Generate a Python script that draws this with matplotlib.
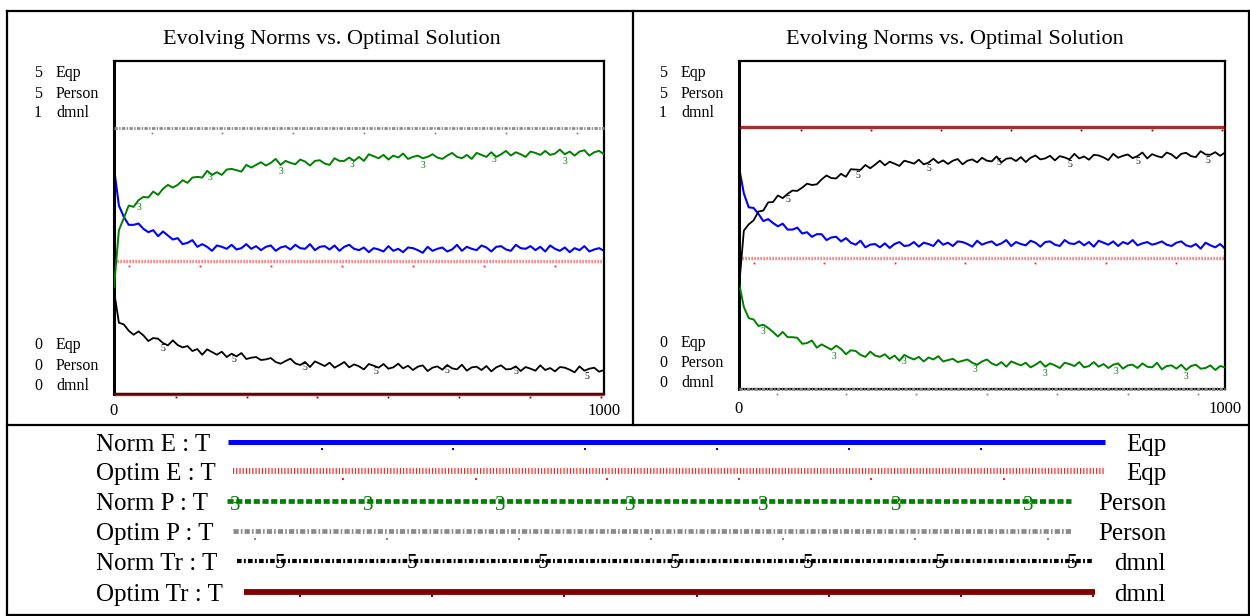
import numpy as np
import matplotlib
matplotlib.use("Agg")
import matplotlib.pyplot as plt
from matplotlib.lines import Line2D
from matplotlib.transforms import offset_copy

plt.rcParams['font.family'] = ['Liberation Serif', 'DejaVu Serif']

# ---------------------------------------------------------------- data
time = np.arange(0, 1001, 10)

norm_e_left = [
    3.39, 2.83, 2.66, 2.54, 2.54, 2.56, 2.48, 2.43, 2.46, 2.37,
    2.44, 2.38, 2.32, 2.34, 2.25, 2.27, 2.31, 2.21, 2.25, 2.21,
    2.15, 2.23, 2.21, 2.18, 2.24, 2.17, 2.19, 2.25, 2.18, 2.22,
    2.16, 2.21, 2.23, 2.15, 2.20, 2.22, 2.17, 2.24, 2.19, 2.18,
    2.25, 2.16, 2.21, 2.22, 2.17, 2.23, 2.15, 2.21, 2.24, 2.18,
    2.16, 2.20, 2.13, 2.19, 2.17, 2.14, 2.22, 2.15, 2.18, 2.13,
    2.20, 2.19, 2.16, 2.12, 2.21, 2.15, 2.18, 2.20, 2.14, 2.17,
    2.24, 2.15, 2.21, 2.18, 2.16, 2.23, 2.20, 2.14, 2.21, 2.22,
    2.17, 2.15, 2.24, 2.19, 2.18, 2.22, 2.16, 2.21, 2.14, 2.23,
    2.18, 2.15, 2.20, 2.13, 2.19, 2.16, 2.22, 2.14, 2.17, 2.19,
    2.15]

norm_p_left = [
    1.60, 2.46, 2.64, 2.83, 2.81, 2.91, 2.96, 2.95, 3.04, 2.99,
    3.08, 3.14, 3.10, 3.14, 3.21, 3.17, 3.25, 3.26, 3.25, 3.35,
    3.29, 3.33, 3.29, 3.37, 3.38, 3.36, 3.34, 3.44, 3.40, 3.44,
    3.48, 3.43, 3.47, 3.53, 3.44, 3.50, 3.47, 3.45, 3.52, 3.49,
    3.43, 3.50, 3.51, 3.46, 3.44, 3.54, 3.50, 3.50, 3.55, 3.50,
    3.56, 3.50, 3.60, 3.57, 3.54, 3.59, 3.52, 3.58, 3.55, 3.61,
    3.53, 3.56, 3.58, 3.54, 3.56, 3.60, 3.55, 3.53, 3.58, 3.62,
    3.56, 3.54, 3.59, 3.53, 3.62, 3.59, 3.56, 3.63, 3.56, 3.60,
    3.65, 3.58, 3.63, 3.60, 3.56, 3.64, 3.62, 3.59, 3.65, 3.59,
    3.61, 3.67, 3.60, 3.64, 3.58, 3.64, 3.66, 3.58, 3.63, 3.65,
    3.60]

norm_tr_left = [
    0.310, 0.214, 0.209, 0.190, 0.178, 0.188, 0.176, 0.159, 0.168, 0.166,
    0.153, 0.146, 0.161, 0.147, 0.140, 0.144, 0.129, 0.135, 0.118, 0.134,
    0.126, 0.118, 0.127, 0.111, 0.121, 0.113, 0.123, 0.105, 0.109, 0.111,
    0.102, 0.104, 0.108, 0.096, 0.091, 0.099, 0.106, 0.092, 0.087, 0.096,
    0.081, 0.098, 0.091, 0.084, 0.094, 0.079, 0.087, 0.096, 0.080, 0.089,
    0.083, 0.074, 0.090, 0.085, 0.079, 0.090, 0.076, 0.080, 0.091, 0.077,
    0.085, 0.072, 0.082, 0.086, 0.069, 0.079, 0.083, 0.073, 0.087, 0.077,
    0.074, 0.088, 0.070, 0.080, 0.082, 0.072, 0.084, 0.068, 0.080, 0.086,
    0.074, 0.075, 0.083, 0.069, 0.081, 0.076, 0.070, 0.086, 0.072, 0.078,
    0.068, 0.081, 0.079, 0.073, 0.065, 0.083, 0.070, 0.076, 0.079, 0.067,
    0.072]

norm_e_right = [
    3.38, 2.98, 2.77, 2.76, 2.67, 2.56, 2.59, 2.53, 2.48, 2.52,
    2.43, 2.43, 2.46, 2.37, 2.39, 2.32, 2.36, 2.36, 2.27, 2.31,
    2.32, 2.25, 2.30, 2.23, 2.20, 2.26, 2.16, 2.20, 2.21, 2.16,
    2.22, 2.15, 2.21, 2.24, 2.18, 2.19, 2.24, 2.17, 2.23, 2.21,
    2.18, 2.27, 2.20, 2.23, 2.18, 2.25, 2.24, 2.21, 2.17, 2.26,
    2.20, 2.23, 2.25, 2.19, 2.22, 2.27, 2.18, 2.24, 2.21, 2.19,
    2.26, 2.23, 2.17, 2.24, 2.25, 2.20, 2.18, 2.27, 2.22, 2.21,
    2.25, 2.19, 2.24, 2.17, 2.26, 2.23, 2.20, 2.25, 2.18, 2.24,
    2.21, 2.27, 2.19, 2.22, 2.24, 2.20, 2.22, 2.25, 2.20, 2.18,
    2.23, 2.25, 2.19, 2.17, 2.21, 2.14, 2.23, 2.19, 2.16, 2.21,
    2.14]

norm_p_right = [
    1.62, 1.25, 1.08, 1.06, 0.96, 0.98, 0.93, 0.87, 0.80, 0.87,
    0.79, 0.79, 0.78, 0.69, 0.70, 0.74, 0.63, 0.68, 0.64, 0.60,
    0.66, 0.61, 0.53, 0.59, 0.58, 0.52, 0.49, 0.57, 0.51, 0.49,
    0.53, 0.46, 0.51, 0.43, 0.52, 0.48, 0.45, 0.49, 0.42, 0.48,
    0.45, 0.50, 0.42, 0.44, 0.46, 0.41, 0.43, 0.45, 0.40, 0.37,
    0.42, 0.45, 0.39, 0.36, 0.41, 0.34, 0.42, 0.39, 0.36, 0.40,
    0.33, 0.37, 0.42, 0.34, 0.39, 0.36, 0.32, 0.40, 0.38, 0.35,
    0.41, 0.33, 0.35, 0.41, 0.34, 0.38, 0.32, 0.37, 0.39, 0.31,
    0.36, 0.37, 0.32, 0.39, 0.34, 0.33, 0.40, 0.30, 0.35, 0.36,
    0.31, 0.37, 0.29, 0.35, 0.37, 0.31, 0.32, 0.36, 0.29, 0.35,
    0.33]

norm_tr_right = [
    0.310, 0.483, 0.502, 0.514, 0.541, 0.544, 0.569, 0.570, 0.590, 0.582,
    0.595, 0.605, 0.604, 0.614, 0.626, 0.622, 0.624, 0.639, 0.651, 0.643,
    0.642, 0.656, 0.647, 0.670, 0.669, 0.668, 0.683, 0.673, 0.684, 0.696,
    0.682, 0.693, 0.687, 0.680, 0.696, 0.692, 0.687, 0.699, 0.685, 0.690,
    0.702, 0.689, 0.697, 0.686, 0.696, 0.701, 0.685, 0.696, 0.700, 0.691,
    0.705, 0.696, 0.694, 0.709, 0.691, 0.702, 0.704, 0.695, 0.707, 0.692,
    0.705, 0.712, 0.700, 0.703, 0.711, 0.697, 0.710, 0.706, 0.700, 0.717,
    0.703, 0.709, 0.699, 0.714, 0.712, 0.706, 0.698, 0.717, 0.705, 0.711,
    0.715, 0.704, 0.710, 0.721, 0.703, 0.716, 0.710, 0.706, 0.721, 0.715,
    0.703, 0.717, 0.720, 0.710, 0.707, 0.725, 0.715, 0.714, 0.722, 0.711,
    0.721]

# optimal (constant) solutions
optim_e_left, optim_p_left, optim_tr_left = 2.0, 4.0, 0.0
optim_e_right, optim_p_right, optim_tr_right = 2.0, 0.0, 0.8

units = ['Eqp', 'Person', 'dmnl']
scale_max = ['5', '5', '1']
scale_min = ['0', '0', '0']
x_tick_labels = ['0', '1000']
title = 'Evolving Norms vs. Optimal Solution'

legend_names = ['Norm E : T', 'Optim E : T', 'Norm P : T',
                'Optim P : T', 'Norm Tr : T', 'Optim Tr : T']
legend_units = ['Eqp', 'Eqp', 'Person', 'Person', 'dmnl', 'dmnl']

# ---------------------------------------------------------------- styles
C_BLUE = '#0000ff'
C_RED = '#ff2020'
C_GREEN = '#008000'
C_GRAY = '#8a8a8a'
C_BLACK = '#000000'
C_DRED = '#800000'

# series marker times along the curves
mark_e = [30, 175, 320, 465, 610, 755, 900]
mark_p = [78, 220, 365, 510, 655, 800, 945]
mark_tr = [127, 271, 415, 560, 704, 849, 994]
mark_num_p = [50, 195, 340, 485, 630, 775, 920]
mark_num_tr = [100, 245, 390, 535, 680, 820, 965]

W, H = 1250, 616
fig = plt.figure(figsize=(W / 100, H / 100), dpi=100)


def fx(x):
    return x / W


def fy(y):
    return 1 - y / H


def fig_line(xs, ys, **kw):
    fig.add_artist(Line2D([fx(v) for v in xs], [fy(v) for v in ys],
                          transform=fig.transFigure, **kw))


def tick_dots(ax, ts, val, color, dy=-5):
    tr = offset_copy(ax.transData, fig=fig, x=0, y=dy, units='dots')
    ax.plot(ts, [val] * len(ts), linestyle='none', marker='s', ms=1.3,
            mew=0, color=color, transform=tr, clip_on=False)


def panel(box, cx, lab_x, top_base, bot_base, xlab_base,
          ne, npv, ntr, oe, op, otr):
    x0, y0, x1, y1 = box
    ax_e = fig.add_axes([fx(x0), fy(y1), (x1 - x0) / W, (y1 - y0) / H])
    ax_e.set_ylim(0, 5)
    ax_p = ax_e.twinx()
    ax_p.set_ylim(0, 5)
    ax_t = ax_e.twinx()
    ax_t.set_ylim(0, 1)
    for a in (ax_e, ax_p, ax_t):
        a.set_xlim(0, 1000)
        a.tick_params(left=False, right=False, bottom=False, top=False,
                      labelleft=False, labelright=False, labelbottom=False)
    for a in (ax_p, ax_t):
        for s in a.spines.values():
            s.set_visible(False)
    for side, lw in (('left', 2.2), ('right', 1.6), ('top', 1.6), ('bottom', 1.6)):
        ax_e.spines[side].set_linewidth(lw)
        ax_e.spines[side].set_color('black')

    n = len(time)
    ax_e.plot(time, ne, color=C_BLUE, lw=1.5)
    ax_e.plot(time, np.full(n, oe), color=C_RED, lw=2.4,
              linestyle=(0, (0.35, 0.55)), dash_capstyle='butt',
              alpha=0.8, clip_on=False)
    tick_dots(ax_e, mark_e, oe, C_RED)
    ax_p.plot(time, npv, color=C_GREEN, lw=1.4)
    ax_p.plot(time, np.full(n, op), color=C_GRAY, lw=2.0,
              linestyle=(0, (1.2, 0.5, 0.5, 0.5)), dash_capstyle='butt',
              clip_on=False)
    tick_dots(ax_p, mark_p, op, C_GRAY)
    ax_t.plot(time, ntr, color=C_BLACK, lw=1.3)
    ax_t.plot(time, np.full(n, otr), color=C_DRED, lw=2.4, alpha=0.8,
              clip_on=False, solid_capstyle='butt')
    tick_dots(ax_t, mark_tr, otr, C_DRED, dy=-3)

    for t in mark_num_p:
        ax_p.annotate('3', (t, npv[t // 10]), xytext=(0, -5),
                      textcoords='offset points', ha='center', va='center',
                      fontsize=7, color=C_GREEN)
    for t in mark_num_tr:
        ax_t.annotate('5', (t, ntr[t // 10]), xytext=(0, -4),
                      textcoords='offset points', ha='center', va='center',
                      fontsize=7, color=C_BLACK)

    fig.text(fx(cx), fy(44), title, ha='center', va='baseline', fontsize=16)
    for i in range(3):
        fig.text(fx(lab_x), fy(top_base[i]), scale_max[i], ha='right',
                 va='baseline', fontsize=11.5)
        fig.text(fx(lab_x + 14), fy(top_base[i]), units[i], ha='left',
                 va='baseline', fontsize=11.5)
        fig.text(fx(lab_x), fy(bot_base[i]), scale_min[i], ha='right',
                 va='baseline', fontsize=11.5)
        fig.text(fx(lab_x + 14), fy(bot_base[i]), units[i], ha='left',
                 va='baseline', fontsize=11.5)
    fig.text(fx(x0), fy(xlab_base), x_tick_labels[0], ha='center',
             va='baseline', fontsize=12)
    fig.text(fx(x1), fy(xlab_base), x_tick_labels[1], ha='center',
             va='baseline', fontsize=12)


panel((114, 61, 604, 394), 332, 42, (77, 98, 117), (349, 370, 390), 415,
      norm_e_left, norm_p_left, norm_tr_left,
      optim_e_left, optim_p_left, optim_tr_left)
panel((739, 61, 1225, 389), 955, 667, (77, 98, 117), (347, 367, 387), 413,
      norm_e_right, norm_p_right, norm_tr_right,
      optim_e_right, optim_p_right, optim_tr_right)

# ---------------------------------------------------------------- frames
frame_kw = dict(color='black', lw=1.6, solid_capstyle='projecting')
fig_line([7, 1249], [10.5, 10.5], **frame_kw)
fig_line([7, 7], [10.5, 615], **frame_kw)
fig_line([1249, 1249], [10.5, 615], **frame_kw)
fig_line([7, 1249], [615, 615], **frame_kw)
fig_line([633, 633], [10.5, 425], **frame_kw)
fig_line([7, 1249], [425, 425], **frame_kw)

# ---------------------------------------------------------------- legend
row_y = [442, 471, 501, 531, 561, 592]
row_x0 = [228, 233, 227, 233, 237, 244]
row_x1 = [1105, 1105, 1071, 1072, 1093, 1095]
row_style = [
    dict(color=C_BLUE, lw=3.6, solid_capstyle='butt'),
    dict(color=C_RED, lw=4.2, linestyle=(0, (0.2, 0.35)),
         dash_capstyle='butt'),
    dict(color=C_GREEN, lw=3.4, linestyle=(0, (1.3, 0.55)),
         dash_capstyle='butt'),
    dict(color=C_GRAY, lw=3.4, linestyle=(0, (1.1, 0.45, 0.35, 0.45)),
         dash_capstyle='butt'),
    dict(color=C_BLACK, lw=3.0, linestyle=(0, (1.1, 0.55, 0.45, 0.55)),
         dash_capstyle='butt'),
    dict(color=C_DRED, lw=4.2, solid_capstyle='butt'),
]
row_dots = [
    ([322, 453, 585, 717, 849, 981], 449, C_BLUE),
    ([343, 476, 607, 739, 871, 1004], 479, C_RED),
    None,
    ([255, 387, 519, 651, 783, 915, 1048], 539, C_GRAY),
    None,
    ([300, 432, 564, 697, 829, 961, 1093], 596, C_DRED),
]
for i in range(6):
    fig.text(fx(96), fy(row_y[i] + 9), legend_names[i], ha='left',
             va='baseline', fontsize=18)
    fig_line([row_x0[i], row_x1[i]], [row_y[i], row_y[i]], **row_style[i])
    fig.text(fx(1166), fy(row_y[i] + 9), legend_units[i], ha='right',
             va='baseline', fontsize=18)
    if row_dots[i] is not None:
        xs, yd, col = row_dots[i]
        fig.add_artist(Line2D([fx(v) for v in xs], [fy(yd)] * len(xs),
                              transform=fig.transFigure, linestyle='none',
                              marker='s', ms=1.6, mew=0, color=col))

for xm in [235, 368, 500, 630, 763, 896, 1028]:
    fig.text(fx(xm), fy(row_y[2] + 4), '3', ha='center', va='center',
             fontsize=15, color=C_GREEN)
for xm in [280, 412, 543, 675, 808, 940, 1072]:
    fig.text(fx(xm), fy(row_y[4] + 2), '5', ha='center', va='center',
             fontsize=15, color=C_BLACK)

fig.savefig('out.png', dpi=100)
